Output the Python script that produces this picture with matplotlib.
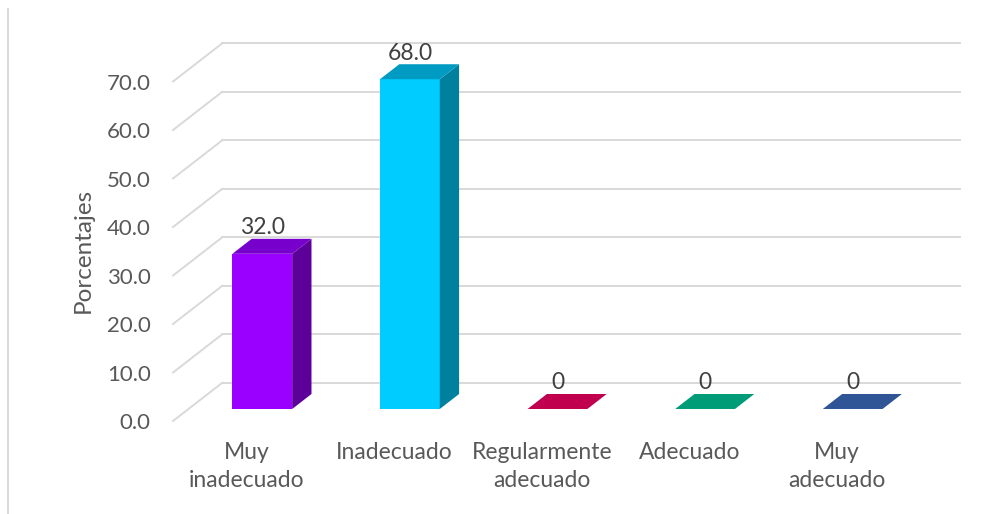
import matplotlib
matplotlib.use("Agg")
import matplotlib.pyplot as plt
from matplotlib.patches import Polygon
from matplotlib.lines import Line2D

plt.rcParams['font.family'] = ['Lato', 'DejaVu Sans']

# datos del grafico
categorias = ["Muy\ninadecuado", "Inadecuado", "Regularmente\nadecuado", "Adecuado", "Muy\nadecuado"]
porcentajes = [32.0, 68.0, 0, 0, 0]
etiquetas = ["32.0", "68.0", "0", "0", "0"]
ticks_y = [0, 10, 20, 30, 40, 50, 60, 70]

col_frente = ["#9900FF", "#00CCFF", "#C0004F", "#009B77", "#2F5597"]
col_techo = ["#7700CC", "#009BC2", "#C0004F", "#009B77", "#2F5597"]
col_lado = ["#5C0099", "#00809F", "#8A0038", "#006E55", "#1F3C6B"]

gris = "#D9D9D9"
texto = "#595959"

# perspectiva oblicua: desplazamiento de la pared del fondo
DX = 0.332
DY = 7.84
d0, d1 = 0.316, 0.71   # profundidad de las barras
ancho = 0.405

fig = plt.figure(figsize=(10.05, 5.14), dpi=100)
W, H = 1005, 514
ax = fig.add_axes([173 / W, (H - 421) / H, (960 - 173) / W, (421 - 43.5) / H])
ax.set_xlim(-0.5, 4.5 + DX)
ax.set_ylim(0, 70 + DY)
for s in ax.spines.values():
    s.set_visible(False)

# lineas de la pared lateral y del fondo
for v in ticks_y:
    ax.plot([-0.5, -0.5 + DX], [v, v + DY], color=gris, lw=1.4, zorder=1, clip_on=False)
    ax.plot([-0.5 + DX, 4.5 + DX], [v + DY, v + DY], color=gris, lw=1.4, zorder=1, clip_on=False)

dd = d1 - d0
for i, v in enumerate(porcentajes):
    xc = i + d0 * DX
    b = d0 * DY
    x0, x1 = xc - ancho / 2, xc + ancho / 2
    if v > 0:
        ax.bar(xc, v, width=ancho, bottom=b, color=col_frente[i], zorder=3)
        lado = Polygon([(x1, b), (x1 + dd * DX, b + dd * DY), (x1 + dd * DX, b + dd * DY + v), (x1, b + v)],
                       closed=True, facecolor=col_lado[i], edgecolor="none", zorder=3)
        ax.add_patch(lado)
    techo = Polygon([(x0, b + v), (x1, b + v), (x1 + dd * DX, b + v + dd * DY), (x0 + dd * DX, b + v + dd * DY)],
                    closed=True, facecolor=col_techo[i], edgecolor="none", zorder=4)
    ax.add_patch(techo)
    ax.annotate(etiquetas[i], xy=(xc, b + v + dd * DY), xytext=(0, 0.5), textcoords="offset points",
                ha="center", va="bottom", fontsize=16.5, color="#404040", zorder=5)

ax.set_yticks(ticks_y)
ax.set_yticklabels(["%.1f" % t for t in ticks_y])
ax.set_xticks(range(len(categorias)))
ax.set_xticklabels(categorias, linespacing=1.45)
ax.tick_params(axis="y", length=0, pad=16, labelsize=16, labelcolor=texto)
ax.tick_params(axis="x", length=0, pad=15, labelsize=16.5, labelcolor=texto)

fig.text(83 / W, 1 - 250 / H, "Porcentajes", rotation=90, ha="center", va="center",
         fontsize=17.5, color=texto)

# borde izquierdo del area del grafico
fig.add_artist(Line2D([8 / W, 8 / W], [0, 1 - 9 / H], color=gris, lw=1.4))

fig.savefig("out.png", dpi=100)
